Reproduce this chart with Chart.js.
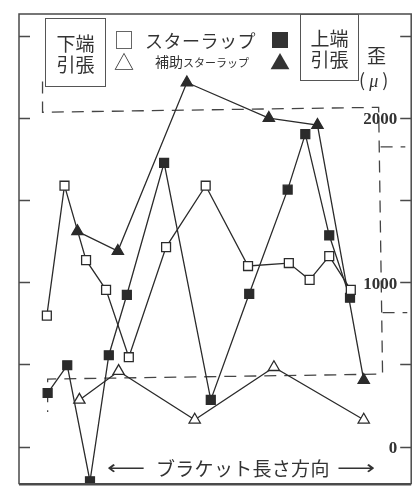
<!DOCTYPE html>
<html>
<head>
<meta charset="utf-8">
<script src="https://cdn.jsdelivr.net/npm/chart.js@4.4.1/dist/chart.umd.min.js"></script>
<style>
  html, body { margin: 0; padding: 0; background: #fff; }
  #wrap { position: relative; width: 419px; height: 492px; font-family: "Noto Sans CJK JP", sans-serif; color: #333; }
  canvas { position: absolute; left: 0; top: 0; }
  .lbl { position: absolute; white-space: nowrap; line-height: 1; }
  .box { position: absolute; border: 1.3px solid #555; font-size: 19px; line-height: 21px; text-align: center;
         display: flex; align-items: center; justify-content: center; box-sizing: border-box; }
  .arrow { font-family: "DejaVu Sans"; font-size: 19px; display: inline-block; transform-origin: left center; }
</style>
</head>
<body>
<div id="wrap">
  <canvas id="strainChart" width="419" height="492"></canvas>

  <div class="box" style="left:45px;top:18px;width:61px;height:69px;">下端<br>引張</div>
  <div class="box" style="left:300px;top:14px;width:59px;height:67px;">上端<br>引張</div>

  <div class="lbl" style="left:114px;top:30px;font-size:20px;">□</div>
  <div class="lbl" style="left:114px;top:52px;font-size:20px;">△</div>
  <div class="lbl" style="left:270px;top:30px;font-size:20px;">■</div>
  <div class="lbl" style="left:270px;top:52px;font-size:20px;">▲</div>

  <div class="lbl" style="left:145px;top:31px;font-size:18px;letter-spacing:0.5px;">スターラップ</div>
  <div class="lbl" style="left:155px;top:54px;font-size:14px;">補助<span style="font-size:11px;">スターラップ</span></div>

  <div class="lbl" style="left:367px;top:45px;font-size:19px;">歪</div>
  <div class="lbl" style="left:359px;top:70px;font-size:18px;">( <i style="font-family:'Liberation Serif';">μ</i> )</div>

  <div class="lbl" style="left:107px;top:458px;"><span class="arrow" style="transform:scaleX(1.4);">⟵</span></div>
  <div class="lbl" style="left:156px;top:458px;font-size:19px;letter-spacing:0.3px;">ブラケット長さ方向</div>
  <div class="lbl" style="left:337px;top:458px;"><span class="arrow" style="transform:scaleX(1.4);">⟶</span></div>
</div>

<script>
// 下端引張 スターラップ (open squares)
const openSqX = [7.1, 11.6, 17.1, 22.2, 28.0, 37.5, 47.6, 58.4, 68.8, 74.1, 79.1, 84.6];
const openSqY = [797, 1588, 1135, 954, 544, 1214, 1588, 1099, 1117, 1015, 1159, 954];

// 上端引張 スターラップ (filled squares)
const fillSqX = [7.3, 12.3, 18.1, 22.9, 27.5, 37.0, 48.9, 58.7, 68.5, 73.0, 79.1, 84.4];
const fillSqY = [326, 495, -211, 556, 924, 1727, 284, 930, 1564, 1902, 1286, 906];

// 上端引張 補助スターラップ (filled triangles)
const fillTriX = [14.9, 25.2, 42.8, 63.7, 76.1, 87.9];
const fillTriY = [1310, 1190, 2216, 1999, 1957, 405];

// 下端引張 補助スターラップ (open triangles)
const openTriX = [15.4, 25.4, 44.8, 65.0, 87.9];
const openTriY = [284, 459, 163, 483, 163];

// dashed boundary lines
const zoneX = [6.0, 6.0, 91.7, 92.7, 7.3, 7.3];
const zoneY = [2222, 2035, 2065, 441, 411, 211];
const stubX = [92.2, 98.5, null, 92.7, 99.0];
const stubY = [1824, 1824, null, 815, 815];

const yTickValues = [0, 500, 1000, 1500, 2000, 2500];
const yLabelValues = [0, 1000, 2000];

const toPoints = (xs, ys) => xs.map((x, i) => (x === null ? { x: null, y: null } : { x: x, y: ys[i] }));

const ink = '#2b2b2b';

// frame, inward tick marks and the strain labels inside the right edge
const framePlugin = {
    id: 'frame',
    afterDraw(chart) {
        const { ctx, chartArea } = chart;
        const y = chart.scales.y;
        ctx.save();
        ctx.strokeStyle = '#4a4a4a';
        ctx.lineWidth = 1.5;
        ctx.beginPath();
        ctx.moveTo(chartArea.left, chartArea.bottom);
        ctx.lineTo(chartArea.left, chartArea.top);
        ctx.lineTo(chartArea.right, chartArea.top);
        ctx.lineTo(chartArea.right, chartArea.bottom);
        ctx.stroke();
        ctx.lineWidth = 2.5;
        ctx.beginPath();
        ctx.moveTo(chartArea.left, chartArea.bottom);
        ctx.lineTo(chartArea.right, chartArea.bottom);
        ctx.stroke();
        ctx.lineWidth = 1.3;
        yTickValues.forEach(v => {
            const py = Math.round(y.getPixelForValue(v)) + 0.5;
            ctx.beginPath();
            ctx.moveTo(chartArea.left, py);
            ctx.lineTo(chartArea.left + 11, py);
            ctx.moveTo(chartArea.right - 11, py);
            ctx.lineTo(chartArea.right, py);
            ctx.stroke();
        });
        ctx.fillStyle = '#333';
        ctx.font = 'bold 17px "Liberation Serif"';
        ctx.textAlign = 'right';
        ctx.textBaseline = 'middle';
        yLabelValues.forEach(v => {
            ctx.fillText(String(v), chartArea.right - 14, y.getPixelForValue(v) + 2);
        });
        ctx.restore();
    }
};

const seriesStyle = {
    borderColor: ink,
    borderWidth: 1.3,
    pointBorderColor: ink,
    pointBorderWidth: 1.3,
    tension: 0
};

new Chart(document.getElementById('strainChart'), {
    type: 'line',
    data: {
        datasets: [
            { ...seriesStyle, data: toPoints(openSqX, openSqY), pointStyle: 'rect', pointRadius: 6.3, pointBackgroundColor: '#fff' },
            { ...seriesStyle, data: toPoints(fillSqX, fillSqY), pointStyle: 'rect', pointRadius: 6.3, pointBackgroundColor: ink },
            { ...seriesStyle, data: toPoints(fillTriX, fillTriY), pointStyle: 'triangle', pointRadius: 6.5, pointBackgroundColor: ink },
            { ...seriesStyle, data: toPoints(openTriX, openTriY), pointStyle: 'triangle', pointRadius: 6.5, pointBackgroundColor: '#fff' },
            { data: toPoints(zoneX, zoneY), borderColor: '#444', borderWidth: 1.3, borderDash: [12, 8], pointRadius: 0, tension: 0 },
            { data: toPoints(stubX, stubY), borderColor: '#444', borderWidth: 1.3, borderDash: [12, 8], pointRadius: 0, tension: 0, spanGaps: false }
        ]
    },
    options: {
        responsive: false,
        animation: false,
        layout: { padding: { left: 19, top: 14, right: 3, bottom: 4 } },
        plugins: { legend: { display: false }, tooltip: { enabled: false } },
        scales: {
            x: { type: 'linear', min: 0, max: 100, display: false },
            y: { type: 'linear', min: -229, max: 2633, display: false }
        }
    },
    plugins: [framePlugin]
});
</script>
</body>
</html>
